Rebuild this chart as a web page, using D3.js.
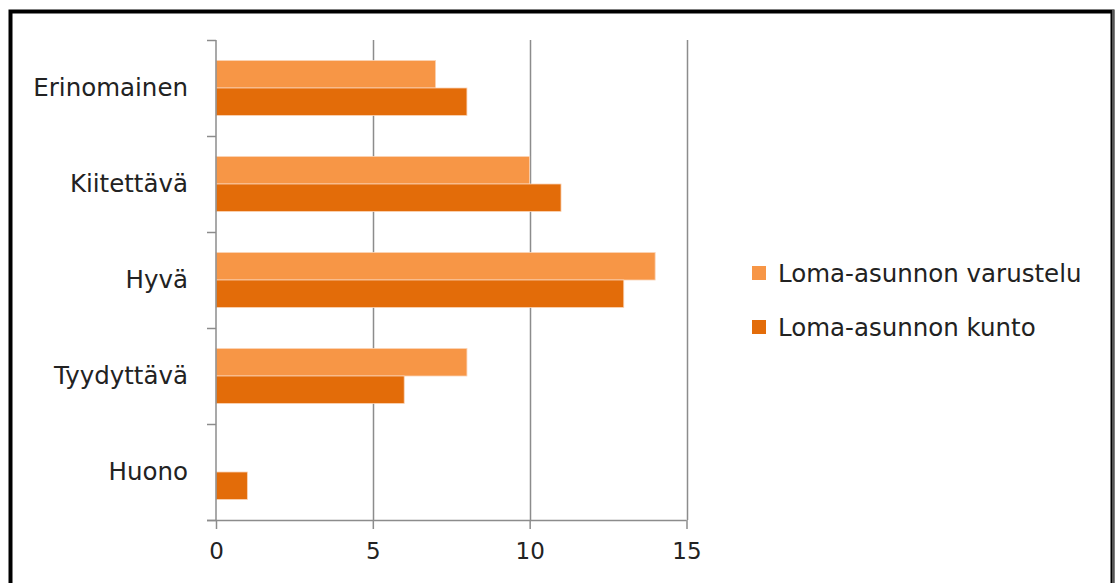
<!DOCTYPE html>
<html>
<head>
<meta charset="utf-8">
<script src="https://cdn.jsdelivr.net/npm/d3@7"></script>
<style>
  html, body { margin: 0; padding: 0; background: #fff; }
  svg { display: block; }
  text { font-family: "DejaVu Sans", sans-serif; fill: #222; }
</style>
</head>
<body>
<svg id="chart" width="1115" height="583"></svg>
<script>
// Ratings and the two series (count of answers per rating)
const categories = ["Erinomainen", "Kiitettävä", "Hyvä", "Tyydyttävä", "Huono"];
const seriesNames = ["Loma-asunnon varustelu", "Loma-asunnon kunto"];
const varustelu = [7, 10, 14, 8, 0];
const kunto = [8, 11, 13, 6, 1];
const xTicks = [0, 5, 10, 15];
const colors = ["#F79646", "#E36C09"];

const svg = d3.select("#chart");
const H = 583;
const FONT = "'DejaVu Sans', sans-serif";

// chart frame
svg.append("rect").attr("x", 10.5).attr("y", 11.5).attr("width", 1102).attr("height", 600)
  .attr("fill", "#fff").attr("stroke", "#000").attr("stroke-width", 4);
svg.append("line").attr("x1", 1113).attr("x2", 1113).attr("y1", 10).attr("y2", H)
  .attr("stroke", "#555").attr("stroke-width", 2);

const plot = { left: 216, right: 686.5, top: 40, bottom: 520 };

const x = d3.scaleLinear().domain([0, 15]).range([plot.left, plot.right]);
const y = d3.scaleBand().domain(categories).range([plot.top, plot.bottom]).paddingInner(0).paddingOuter(0);
// two bars per category, 75% gap width
const groupH = y.bandwidth() / 1.75;
const sub = d3.scaleBand().domain([0, 1]).range([0, groupH]);

// vertical gridlines
svg.append("g").selectAll("line").data(xTicks.filter(t => t > 0)).join("line")
  .attr("x1", d => Math.round(x(d)) + 0.5).attr("x2", d => Math.round(x(d)) + 0.5)
  .attr("y1", plot.top).attr("y2", plot.bottom)
  .attr("stroke", "#8c8c8c").attr("stroke-width", 1.5);

// bars
const data = [varustelu, kunto];
const bars = svg.append("g");
categories.forEach((c, i) => {
  data.forEach((vals, s) => {
    const v = vals[i];
    if (v <= 0) return;
    bars.append("rect")
      .attr("x", x(0))
      .attr("y", y(c) + (y.bandwidth() - groupH) / 2 + sub(s))
      .attr("width", x(v) - x(0))
      .attr("height", sub.bandwidth())
      .attr("fill", colors[s])
      .attr("stroke", "#fbd3b4").attr("stroke-width", 0.8);
  });
});

// category axis (left)
const yAxis = d3.axisLeft(y).tickSize(0).tickPadding(28);
const gy = svg.append("g").attr("transform", `translate(${plot.left},0)`).call(yAxis);
gy.select(".domain").remove();
gy.selectAll("text").style("font-size", "24.5px").style("font-family", FONT).attr("fill", "#222");
// category separators
const sepY = categories.map(c => y(c)).concat([plot.bottom]);
svg.append("g").selectAll("line").data(sepY).join("line")
  .attr("x1", plot.left - 9).attr("x2", plot.left)
  .attr("y1", d => d + 0.5).attr("y2", d => d + 0.5)
  .attr("stroke", "#8c8c8c").attr("stroke-width", 1.5);
svg.append("line").attr("x1", plot.left).attr("x2", plot.left)
  .attr("y1", plot.top).attr("y2", plot.bottom)
  .attr("stroke", "#8c8c8c").attr("stroke-width", 1.5);

// value axis (bottom)
const xAxis = d3.axisBottom(x).tickValues(xTicks).tickSize(9).tickPadding(14).tickSizeOuter(0);
const gx = svg.append("g").attr("transform", `translate(0,${plot.bottom})`).call(xAxis);
gx.select(".domain").attr("stroke", "#8c8c8c").attr("stroke-width", 1.5)
  .attr("d", `M${plot.left - 9},0.5H${plot.right}`);
gx.selectAll(".tick line").attr("stroke", "#8c8c8c").attr("stroke-width", 1.5);
gx.selectAll("text").style("font-size", "23px").style("font-family", FONT).attr("fill", "#222");

// legend
const legend = svg.append("g").attr("transform", "translate(752,262)");
seriesNames.forEach((n, i) => {
  const g = legend.append("g").attr("transform", `translate(0,${i * 54})`);
  g.append("rect").attr("x", 0).attr("y", 4).attr("width", 14).attr("height", 14).attr("fill", colors[i]);
  g.append("text").attr("x", 26).attr("y", 11).attr("dy", "0.35em")
    .style("font-size", "24.5px").text(n);
});
</script>
</body>
</html>
